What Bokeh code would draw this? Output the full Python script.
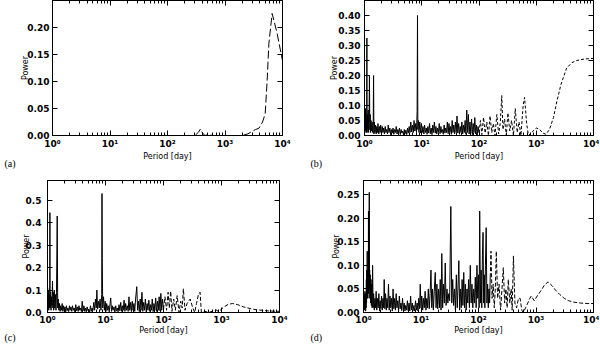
from bokeh.plotting import figure
from bokeh.layouts import column, row
from bokeh.models import LogAxis, LinearAxis, FixedTicker, Title, NumeralTickFormatter
from bokeh.embed import file_html
from bokeh.resources import INLINE

# ---------------- data ----------------
x_major = [1, 10, 100, 1000, 10000]
x_tick_labels = ["10⁰", "10¹", "10²", "10³", "10⁴"]

# panel (a): whole curve dashed (period [day], power)
a_long = [(1, 0.0), (100, 0.0), (300, 0.0), (345, 0.006), (375, 0.012), (410, 0.004),
          (450, 0.0), (520, 0.002), (600, 0.0), (2000, 0.0), (2500, 0.003), (2800, 0.006),
          (3400, 0.011), (3900, 0.0135), (4500, 0.025), (5000, 0.04), (5400, 0.10),
          (5800, 0.17), (6600, 0.225), (8000, 0.19), (10000, 0.138)]
a_short = []

# panel (b)
b_short = [(1.000, 0.02), (1.005, 0.085), (1.01, 0.01), (1.02, 0.07), (1.03, 0.02), (1.04, 0.09),
           (1.05, 0.015), (1.06, 0.06), (1.07, 0.01), (1.08, 0.05), (1.09, 0.02), (1.10, 0.325),
           (1.11, 0.01), (1.12, 0.07), (1.14, 0.02), (1.16, 0.085), (1.18, 0.01), (1.20, 0.06),
           (1.22, 0.20), (1.24, 0.02), (1.26, 0.07), (1.28, 0.01), (1.30, 0.05), (1.33, 0.015),
           (1.36, 0.045), (1.39, 0.01), (1.42, 0.04), (1.44, 0.20), (1.46, 0.005), (1.49, 0.045),
           (1.52, 0.01), (1.56, 0.035), (1.60, 0.005), (1.64, 0.03), (1.68, 0.01), (1.72, 0.04),
           (1.77, 0.005), (1.82, 0.03), (1.87, 0.01), (1.92, 0.035), (1.98, 0.005), (2.04, 0.03),
           (2.10, 0.01), (2.16, 0.025), (2.23, 0.005), (2.30, 0.03), (2.37, 0.01), (2.44, 0.02),
           (2.52, 0.005), (2.60, 0.035), (2.68, 0.01), (2.77, 0.025), (2.86, 0.003), (2.95, 0.02),
           (3.05, 0.008), (3.15, 0.025), (3.25, 0.004), (3.36, 0.02), (3.47, 0.01), (3.58, 0.03),
           (3.70, 0.005), (3.82, 0.02), (3.95, 0.008), (4.08, 0.025), (4.22, 0.003), (4.36, 0.02),
           (4.50, 0.008), (4.65, 0.015), (4.80, 0.002), (4.96, 0.02), (5.12, 0.006), (5.29, 0.018),
           (5.47, 0.003), (5.65, 0.025), (5.84, 0.008), (6.03, 0.03), (6.23, 0.01), (6.44, 0.045),
           (6.65, 0.012), (6.87, 0.035), (7.10, 0.01), (7.34, 0.05), (7.58, 0.015), (7.83, 0.04),
           (8.09, 0.01), (8.30, 0.08), (8.43, 0.40), (8.55, 0.02), (8.75, 0.05), (8.95, 0.01),
           (9.25, 0.045), (9.55, 0.008), (9.87, 0.04), (10.2, 0.01), (10.5, 0.03), (10.9, 0.005),
           (11.2, 0.035), (11.6, 0.01), (12.0, 0.025), (12.4, 0.004), (12.8, 0.03), (13.2, 0.008),
           (13.7, 0.04), (14.1, 0.006), (14.6, 0.025), (15.1, 0.003), (15.6, 0.035), (16.1, 0.01),
           (16.6, 0.045), (17.2, 0.008), (17.7, 0.03), (18.3, 0.005), (18.9, 0.025), (19.6, 0.01),
           (20.2, 0.04), (20.9, 0.006), (21.6, 0.03), (22.3, 0.01), (23.0, 0.02), (23.8, 0.004),
           (24.6, 0.035), (25.4, 0.008), (26.2, 0.025), (27.1, 0.01), (28.0, 0.045), (28.9, 0.006),
           (29.9, 0.04), (30.9, 0.01), (31.9, 0.03), (32.9, 0.004), (34.0, 0.05), (35.1, 0.01),
           (36.3, 0.035), (37.5, 0.005), (38.7, 0.045), (40.0, 0.01), (41.3, 0.065), (42.7, 0.008),
           (44.1, 0.04), (45.6, 0.004), (47.1, 0.03), (48.6, 0.01), (50.2, 0.045), (51.9, 0.005),
           (53.6, 0.035), (55.4, 0.01), (57.2, 0.05), (59.1, 0.004), (61.1, 0.085), (63.1, 0.01),
           (65.2, 0.07), (67.3, 0.005), (69.5, 0.045), (71.8, 0.008), (74.2, 0.055), (76.6, 0.003),
           (79.2, 0.04), (81.8, 0.01), (84.5, 0.06), (87.3, 0.005), (90.2, 0.035), (93.1, 0.002),
           (96.2, 0.03), (100, 0.01)]
b_long = [(100, 0.01), (106, 0.05), (112, 0.003), (120, 0.06), (128, 0.008), (137, 0.045),
          (146, 0.0), (156, 0.065), (167, 0.01), (178, 0.04), (190, 0.0), (205, 0.07),
          (220, 0.005), (235, 0.04), (250, 0.133), (262, 0.02), (280, 0.055), (300, 0.0),
          (320, 0.075), (345, 0.015), (370, 0.05), (400, 0.0), (430, 0.09), (465, 0.01),
          (500, 0.045), (540, 0.0), (590, 0.1), (625, 0.127), (680, 0.04), (730, 0.0),
          (850, 0.012), (1000, 0.025), (1150, 0.02), (1300, 0.008), (1480, 0.004), (1700, 0.02),
          (2000, 0.06), (2300, 0.115), (2700, 0.17), (3400, 0.225), (4200, 0.243), (5100, 0.25),
          (7000, 0.255), (10000, 0.257)]

# panel (c)
c_short = [(1.00, 0.05), (1.005, 0.11), (1.01, 0.02), (1.02, 0.09), (1.03, 0.03), (1.04, 0.1),
           (1.05, 0.01), (1.06, 0.08), (1.07, 0.02), (1.08, 0.06), (1.09, 0.03), (1.10, 0.445),
           (1.11, 0.02), (1.13, 0.09), (1.15, 0.01), (1.17, 0.07), (1.19, 0.03), (1.22, 0.14),
           (1.24, 0.02), (1.26, 0.09), (1.28, 0.01), (1.31, 0.1), (1.34, 0.02), (1.37, 0.08),
           (1.40, 0.01), (1.43, 0.09), (1.47, 0.43), (1.50, 0.02), (1.53, 0.06), (1.57, 0.01),
           (1.61, 0.04), (1.65, 0.005), (1.69, 0.03), (1.74, 0.01), (1.79, 0.04), (1.84, 0.005),
           (1.89, 0.03), (1.94, 0.01), (2.00, 0.025), (2.06, 0.003), (2.12, 0.03), (2.18, 0.008),
           (2.25, 0.02), (2.32, 0.004), (2.39, 0.03), (2.46, 0.01), (2.54, 0.025), (2.62, 0.005),
           (2.70, 0.03), (2.79, 0.01), (2.88, 0.02), (2.97, 0.003), (3.07, 0.035), (3.17, 0.008),
           (3.27, 0.025), (3.38, 0.005), (3.49, 0.03), (3.60, 0.01), (3.72, 0.02), (3.84, 0.004),
           (3.97, 0.05), (4.10, 0.008), (4.24, 0.03), (4.38, 0.005), (4.52, 0.02), (4.67, 0.003),
           (4.83, 0.025), (4.99, 0.008), (5.16, 0.015), (5.33, 0.003), (5.51, 0.03), (5.69, 0.005),
           (5.88, 0.02), (6.08, 0.01), (6.28, 0.045), (6.49, 0.01), (6.71, 0.06), (6.93, 0.02),
           (7.10, 0.1), (7.30, 0.015), (7.55, 0.05), (7.80, 0.02), (8.05, 0.06), (8.35, 0.01),
           (8.60, 0.08), (8.70, 0.53), (8.80, 0.24), (8.95, 0.02), (9.25, 0.07), (9.55, 0.01),
           (9.87, 0.05), (10.2, 0.005), (10.5, 0.04), (10.9, 0.01), (11.2, 0.03), (11.6, 0.003),
           (12.0, 0.04), (12.3, 0.065), (12.7, 0.005), (13.1, 0.03), (13.5, 0.01), (14.0, 0.025),
           (14.5, 0.002), (15.0, 0.03), (15.5, 0.006), (16.0, 0.02), (16.5, 0.003), (17.1, 0.035),
           (17.7, 0.008), (18.3, 0.045), (18.9, 0.005), (19.5, 0.03), (20.2, 0.01), (20.9, 0.055),
           (21.6, 0.005), (22.3, 0.04), (23.0, 0.01), (23.8, 0.03), (24.6, 0.005), (25.4, 0.07),
           (26.2, 0.01), (27.1, 0.045), (28.0, 0.004), (28.9, 0.05), (29.9, 0.01), (30.9, 0.04),
           (31.9, 0.005), (33.0, 0.06), (34.6, 0.115), (35.8, 0.01), (37.0, 0.05), (38.3, 0.004),
           (39.6, 0.06), (41.0, 0.01), (42.5, 0.09), (44.0, 0.005), (45.5, 0.045), (47.1, 0.01),
           (48.7, 0.06), (50.4, 0.003), (52.2, 0.04), (54.0, 0.01), (55.9, 0.055), (57.8, 0.005),
           (59.8, 0.035), (61.9, 0.01), (64.0, 0.06), (66.2, 0.004), (68.5, 0.04), (70.9, 0.01),
           (73.4, 0.065), (75.9, 0.005), (78.6, 0.05), (81.3, 0.01), (84.1, 0.07), (87.0, 0.008),
           (90.0, 0.085), (93.1, 0.01), (96.3, 0.06), (100, 0.015)]
c_long = [(100, 0.015), (106, 0.07), (113, 0.01), (120, 0.09), (126, 0.02), (133, 0.095),
          (140, 0.005), (150, 0.06), (160, 0.01), (172, 0.075), (185, 0.0), (198, 0.05),
          (210, 0.02), (220, 0.106), (235, 0.01), (255, 0.04), (288, 0.06), (320, 0.02),
          (345, 0.0), (370, 0.04), (400, 0.08), (427, 0.09), (450, 0.0), (520, 0.005),
          (600, 0.0), (700, 0.006), (800, 0.012), (880, 0.005), (950, 0.01), (1100, 0.025),
          (1300, 0.036), (1550, 0.04), (1900, 0.035), (2400, 0.025), (3200, 0.017),
          (4000, 0.012), (5000, 0.01), (6500, 0.007), (10000, 0.005)]

# panel (d)
d_short = [(1.00, 0.03), (1.01, 0.005), (1.02, 0.04), (1.03, 0.01), (1.04, 0.035), (1.05, 0.005),
           (1.06, 0.045), (1.07, 0.01), (1.08, 0.03), (1.09, 0.003), (1.10, 0.04), (1.11, 0.01),
           (1.12, 0.07), (1.13, 0.02), (1.14, 0.09), (1.15, 0.03), (1.16, 0.13), (1.17, 0.04),
           (1.18, 0.08), (1.19, 0.03), (1.20, 0.09), (1.21, 0.05), (1.22, 0.215), (1.23, 0.04),
           (1.24, 0.09), (1.25, 0.06), (1.26, 0.255), (1.27, 0.05), (1.28, 0.09), (1.29, 0.03),
           (1.31, 0.08), (1.33, 0.02), (1.35, 0.07), (1.37, 0.015), (1.39, 0.06), (1.41, 0.01),
           (1.44, 0.1), (1.47, 0.01), (1.50, 0.04), (1.54, 0.005), (1.58, 0.03), (1.62, 0.01),
           (1.66, 0.045), (1.70, 0.005), (1.75, 0.03), (1.80, 0.01), (1.85, 0.04), (1.90, 0.003),
           (1.95, 0.025), (2.00, 0.008), (2.06, 0.035), (2.12, 0.005), (2.18, 0.03), (2.24, 0.01),
           (2.29, 0.07), (2.35, 0.008), (2.42, 0.04), (2.49, 0.005), (2.56, 0.03), (2.64, 0.01),
           (2.72, 0.06), (2.80, 0.005), (2.89, 0.035), (2.98, 0.01), (3.07, 0.03), (3.17, 0.003),
           (3.27, 0.05), (3.37, 0.008), (3.48, 0.03), (3.59, 0.005), (3.70, 0.04), (3.82, 0.01),
           (3.94, 0.025), (4.07, 0.003), (4.20, 0.035), (4.34, 0.008), (4.48, 0.02), (4.62, 0.004),
           (4.77, 0.03), (4.93, 0.006), (5.09, 0.02), (5.26, 0.003), (5.43, 0.015), (5.61, 0.005),
           (5.80, 0.025), (5.99, 0.004), (6.19, 0.02), (6.39, 0.003), (6.60, 0.035), (6.82, 0.006),
           (7.05, 0.02), (7.28, 0.004), (7.52, 0.015), (7.77, 0.003), (8.03, 0.025), (8.30, 0.005),
           (8.58, 0.02), (8.86, 0.003), (9.15, 0.03), (9.45, 0.008), (9.70, 0.06), (10.0, 0.01),
           (10.3, 0.035), (10.7, 0.005), (11.0, 0.03), (11.4, 0.01), (11.8, 0.045), (12.2, 0.005),
           (12.6, 0.03), (13.0, 0.01), (13.4, 0.05), (13.9, 0.008), (14.4, 0.04), (14.9, 0.09),
           (15.4, 0.01), (15.9, 0.05), (16.4, 0.005), (17.0, 0.045), (17.7, 0.085), (18.3, 0.01),
           (18.9, 0.06), (19.5, 0.008), (20.2, 0.05), (20.9, 0.01), (21.6, 0.07), (22.3, 0.005),
           (23.0, 0.125), (23.8, 0.01), (24.6, 0.06), (25.5, 0.02), (26.4, 0.105), (27.3, 0.015),
           (28.3, 0.05), (29.3, 0.02), (30.4, 0.04), (31.5, 0.025), (33.0, 0.225), (34.3, 0.02),
           (35.6, 0.07), (36.9, 0.015), (38.3, 0.05), (39.7, 0.005), (41.2, 0.08), (42.7, 0.01),
           (44.2, 0.06), (45.5, 0.11), (47.0, 0.005), (48.6, 0.05), (50.2, 0.01), (51.9, 0.07),
           (53.6, 0.015), (55.4, 0.085), (57.2, 0.01), (59.1, 0.06), (61.1, 0.005), (63.1, 0.05),
           (65.2, 0.02), (67.3, 0.07), (69.5, 0.01), (72.0, 0.1), (74.5, 0.02), (77.0, 0.06),
           (79.6, 0.01), (82.3, 0.05), (85.0, 0.02), (88.0, 0.075), (91.0, 0.01), (94.0, 0.1),
           (97.0, 0.03), (100, 0.08), (102.5, 0.01), (105, 0.215), (108, 0.02), (111, 0.09),
           (114, 0.01), (117, 0.12), (120, 0.17), (123, 0.02), (126, 0.08), (129, 0.01),
           (132, 0.1), (136, 0.18), (140, 0.02), (144, 0.06), (148, 0.01), (152, 0.05),
           (156, 0.02), (160, 0.075)]
d_long = [(160, 0.075), (165, 0.13), (172, 0.03), (180, 0.06), (188, 0.01), (196, 0.05),
          (204, 0.13), (215, 0.03), (228, 0.06), (242, 0.005), (256, 0.05), (270, 0.095),
          (285, 0.02), (300, 0.05), (315, 0.01), (330, 0.07), (350, 0.02), (370, 0.05),
          (385, 0.005), (405, 0.12), (430, 0.02), (460, 0.01), (495, 0.03), (530, 0.03),
          (565, 0.005), (600, 0.0), (660, 0.01), (720, 0.02), (780, 0.03), (830, 0.035),
          (930, 0.025), (1050, 0.035), (1200, 0.045), (1400, 0.058), (1620, 0.065),
          (1900, 0.057), (2200, 0.047), (2600, 0.038), (3100, 0.03), (3700, 0.025),
          (4500, 0.022), (6000, 0.02), (8000, 0.019), (10000, 0.019)]

a_yticks = [0.0, 0.05, 0.10, 0.15, 0.20]
b_yticks = [0.0, 0.05, 0.10, 0.15, 0.20, 0.25, 0.30, 0.35, 0.40]
c_yticks = [0.0, 0.1, 0.2, 0.3, 0.4, 0.5]
d_yticks = [0.0, 0.05, 0.10, 0.15, 0.20, 0.25]

# ---------------- drawing ----------------
x_minor = [m * d for d in (1, 10, 100, 1000) for m in range(2, 10)]
overrides = {float(v): lab for v, lab in zip(x_major, x_tick_labels)}


def style_axis(ax, labels=True):
    ax.axis_line_color = "black"
    ax.major_tick_line_color = "black"
    ax.minor_tick_line_color = "black"
    ax.major_tick_in = 5
    ax.major_tick_out = 0
    ax.minor_tick_in = 3
    ax.minor_tick_out = 0
    ax.major_label_text_font = "DejaVu Sans"
    ax.major_label_text_font_style = "bold"
    ax.major_label_text_font_size = "9px"
    ax.major_label_text_color = "black"
    ax.axis_label_text_font = "DejaVu Sans"
    ax.axis_label_text_font_style = "normal"
    ax.axis_label_text_font_size = "8px"
    ax.axis_label_text_color = "black"
    if not labels:
        ax.major_label_text_font_size = "0px"
        ax.major_label_text_color = None
        ax.major_label_standoff = 0


def panel(short, long, ytop, yticks, yfmt, dash, size, borders, tag, tag_off,
          ystand, ylab_stand, xstand, xlab_stand):
    w, h = size
    bl, br, bt, bb = borders
    p = figure(width=w, height=h, x_axis_type="log", x_range=(1, 10000),
               y_range=(0, ytop), output_backend="svg", toolbar_location=None,
               min_border_left=bl, min_border_right=br, min_border_top=bt,
               min_border_bottom=bb, background_fill_color="white",
               border_fill_color="white")
    p.xgrid.visible = False
    p.ygrid.visible = False
    p.outline_line_color = "black"

    if short:
        p.line(x=[s[0] for s in short], y=[s[1] for s in short],
               line_color="black", line_width=1)
    p.line(x=[s[0] for s in long], y=[s[1] for s in long],
           line_color="black", line_width=1, line_dash=dash)

    xa = p.xaxis[0]
    xa.ticker = FixedTicker(ticks=x_major, minor_ticks=x_minor)
    style_axis(xa)
    xa.major_label_overrides = overrides
    xa.major_label_standoff = xstand
    xa.axis_label = "Period [day]"
    xa.axis_label_standoff = xlab_stand

    ya = p.yaxis[0]
    ya.ticker = FixedTicker(ticks=yticks, minor_ticks=[])
    style_axis(ya)
    ya.formatter = NumeralTickFormatter(format=yfmt)
    ya.major_label_standoff = ystand
    ya.axis_label = "Power"
    ya.axis_label_standoff = ylab_stand

    top = LogAxis(ticker=FixedTicker(ticks=x_major, minor_ticks=x_minor))
    style_axis(top, labels=False)
    p.add_layout(top, "above")
    right = LinearAxis(ticker=FixedTicker(ticks=yticks, minor_ticks=[]))
    style_axis(right, labels=False)
    p.add_layout(right, "right")

    p.add_layout(Title(text=tag, align="left", offset=tag_off, standoff=-14,
                       vertical_align="middle",
                       text_font="Liberation Serif", text_font_size="10px",
                       text_font_style="normal", text_color="black"), "below")
    return p


pa = panel(a_short, a_long, 0.249, a_yticks, "0.00", "8 3", (300, 174), (52, 18, 0, 39),
           "(a)", -48, 3, -6, 3, 0)
pb = panel(b_short, b_long, 0.45, b_yticks, "0.00", "3 2", (299, 174), (64, 6, 0, 39),
           "(b)", -54, 4, -4, 3, 0)
pc = panel(c_short, c_long, 0.588, c_yticks, "0.0", "4 2", (300, 173), (47, 21, 5, 35),
           "(c)", -43, 6, -8, 2, -2)
pd = panel(d_short, d_long, 0.28, d_yticks, "0.00", "4 2", (299, 173), (63, 6, 6, 34),
           "(d)", -53, 4, -7, 2, -2)

layout = column(row(pa, pb), row(pc, pd))

with open("out.html", "w") as f:
    f.write(file_html(layout, INLINE))
